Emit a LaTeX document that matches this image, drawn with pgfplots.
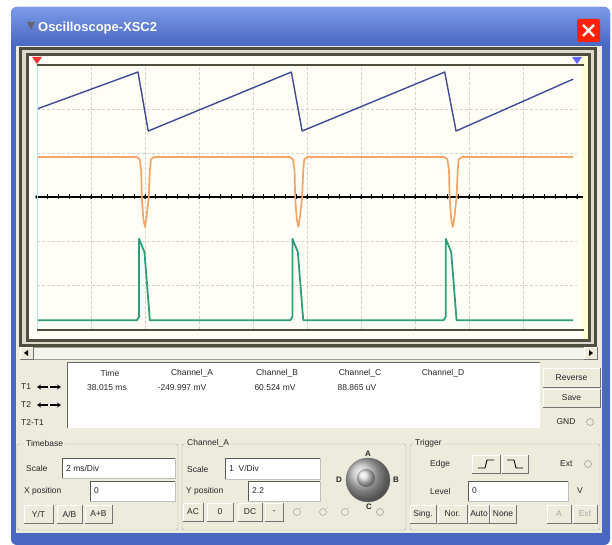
\documentclass[border=0pt]{standalone}
\usepackage{pgfplots}
\pgfplotsset{compat=1.18}
\usepackage{fontspec}
\setmainfont{Liberation Sans}
\usetikzlibrary{arrows.meta}
\definecolor{xpblue}{HTML}{4A67C2}
\definecolor{xpbluel}{HTML}{7C9AE8}
\definecolor{panel}{HTML}{ECEBDC}
\definecolor{scr}{HTML}{FEFEF6}
\definecolor{frm}{HTML}{4E4E3E}
\definecolor{chA}{HTML}{3F4A98}
\definecolor{chB}{HTML}{F2A567}
\definecolor{chC}{HTML}{2E9E7A}
\definecolor{gridc}{HTML}{D2D2CA}
\newcommand{\tbox}[5]{%
  \fill[white] (#1,#2) rectangle (#3,#4);
  \draw[black!65] (#1,#4) -- (#1,#2) -- (#3,#2);
  \draw[black!25] (#1,#4) -- (#3,#4) -- (#3,#2);
  \node[anchor=west] at ({#1+4},{(#2+#4)/2}) {#5};}
\newcommand{\btn}[5]{%
  \fill[panel] (#1,#2) rectangle (#3,#4);
  \draw[white] (#1,#4) -- (#1,#2) -- (#3,#2);
  \draw[black!55] (#1,#4) -- (#3,#4) -- (#3,#2);
  \node at ({(#1+#3)/2},{(#2+#4)/2}) {#5};}
\begin{document}
\begin{tikzpicture}[every node/.style={font=\fontsize{8.5}{10}\selectfont, inner sep=0pt, text=black!85}]
\begin{scope}[x=1bp, y=-1bp, yshift=538bp]
% background and window
\fill[white] (0,0) rectangle (612,538);
\fill[xpblue, rounded corners=6] (11,7) rectangle (610,545);
\shade[top color=xpbluel, bottom color=xpblue, rounded corners=6] (11,7) rectangle (610,46);
\fill[panel] (16,46) rectangle (602,533);
\fill[black!60] (27,22) -- (35,22) -- (31,30) -- cycle;
\node[anchor=west, text=white, font=\fontsize{13}{14}\selectfont\bfseries] at (38,28) {Oscilloscope-XSC2};
\fill[red!75!orange, rounded corners=2] (577,19) rectangle (600,42);
\draw[white, line width=2.2pt] (583,25) -- (594,36) (594,25) -- (583,36);
% screen frame
\fill[frm] (19,47) rectangle (597,347);
\fill[panel!85!gray] (22,50) rectangle (594,344);
\fill[frm] (26,53) rectangle (591,342);
\fill[scr] (29,56) rectangle (588,339);
\fill[yellow!18] (582,56) rectangle (588,339);
\end{scope}
\begin{axis}[at={(37bp,209bp)}, anchor=south west, width=540bp, height=264bp, scale only axis,
  xmin=0, xmax=10, ymin=-3, ymax=3, clip=false,
  axis line style={draw=none}, tick style={draw=none},
  xtick={1,...,9}, ytick={-2,-1,1,2}, xticklabels={}, yticklabels={},
  grid=major, major grid style={gridc, densely dashed, line width=0.7pt}]
\addplot[black, line width=1.1pt] coordinates {(0,0) (10.11,0)};
\addplot[chB, line width=1.7pt, line join=round] coordinates {
 (0,0.91) (1.84,0.91) (1.90,0.86) (1.93,0.6) (1.94,0) (1.97,-0.5) (2.00,-0.68) (2.03,-0.45) (2.07,0) (2.09,0.6) (2.11,0.86) (2.17,0.91)
 (4.68,0.91) (4.74,0.86) (4.77,0.6) (4.78,0) (4.81,-0.5) (4.84,-0.68) (4.87,-0.45) (4.91,0) (4.93,0.6) (4.95,0.86) (5.01,0.91)
 (7.54,0.91) (7.60,0.86) (7.63,0.6) (7.64,0) (7.67,-0.5) (7.70,-0.68) (7.73,-0.45) (7.77,0) (7.79,0.6) (7.81,0.86) (7.87,0.91)
 (9.93,0.91)};
\addplot[chC, line width=1.8pt, line join=round] coordinates {
 (0,-2.8) (1.85,-2.8) (1.89,-2.72) (1.89,-0.95) (1.99,-1.25) (2.09,-2.8)
 (4.69,-2.8) (4.73,-2.72) (4.73,-0.95) (4.83,-1.25) (4.93,-2.8)
 (7.53,-2.8) (7.57,-2.72) (7.57,-0.95) (7.67,-1.25) (7.77,-2.8)
 (9.93,-2.8)};
\addplot[chA, line width=1.4pt, line join=round] coordinates {
 (0,2.0) (1.87,2.84) (2.06,1.50) (4.71,2.84) (4.91,1.50) (7.55,2.84) (7.76,1.50) (9.93,2.68)};
\end{axis}
\begin{scope}[x=1bp, y=-1bp, yshift=538bp]
% graticule top/bottom, center ticks, cursors
\draw[frm, line width=1.6pt] (37,65) -- (584,65);
\draw[frm, line width=1.6pt] (37,330) -- (584,330);
\foreach \i in {0,...,50} { \draw[black, line width=0.7pt] ({37+\i*10.8},194.5) -- ({37+\i*10.8},199.5); }
\foreach \i in {0,...,10} { \fill[black] ({37+\i*54},197) circle (1.8); }
\draw[cyan!30, line width=0.8pt] (37,66) -- (37,329);
\fill[red!80] (32,57) -- (42,57) -- (37,64) -- cycle;
\fill[blue!60] (572,57) -- (582,57) -- (577,64) -- cycle;
% scrollbar
\fill[panel!50!white] (20,347) rectangle (597,359);
\draw[black!40] (20,347) rectangle (597,359);
\btn{20}{347}{33}{359}{}
\btn{584}{347}{597}{359}{}
\fill[black] (24,353) -- (28,350) -- (28,356) -- cycle;
\fill[black] (593,353) -- (589,350) -- (589,356) -- cycle;
% readout
\fill[white] (67,362) rectangle (540,428);
\draw[black!60] (67,428) -- (67,362) -- (540,362);
\node[anchor=west] at (21,387) {T1};
\node[anchor=west] at (21,405) {T2};
\node[anchor=west] at (21,423) {T2-T1};
\foreach \yy in {387,405} {
  \draw[-{Stealth[length=4pt,width=5pt]}, line width=1.3pt] (48,\yy) -- (37,\yy);
  \draw[-{Stealth[length=4pt,width=5pt]}, line width=1.3pt] (50,\yy) -- (61,\yy);
}
\node at (110,373) {Time};
\node at (192,373) {Channel\_A};
\node at (277,373) {Channel\_B};
\node at (360,373) {Channel\_C};
\node at (443,373) {Channel\_D};
\node at (107,388) {38.015 ms};
\node at (182,388) {-249.997 mV};
\node at (275,388) {60.524 mV};
\node at (357,388) {88.865 uV};
\btn{543}{368}{600}{387}{Reverse}
\btn{543}{389}{600}{407}{Save}
\node at (566,422) {GND};
\draw[black!50] (590,422) circle (3.5);
% group boxes
\draw[black!35, rounded corners=2] (17,444) rectangle (178,530);
\draw[black!35, rounded corners=2] (182,444) rectangle (406,530);
\draw[black!35, rounded corners=2] (410,444) rectangle (600,530);
\node[anchor=west, fill=panel, inner xsep=2pt] at (24,443) {Timebase};
\node[anchor=west, fill=panel, inner xsep=2pt] at (185,443) {Channel\_A};
\node[anchor=west, fill=panel, inner xsep=2pt] at (413,443) {Trigger};
% Timebase
\node[anchor=west] at (26,468) {Scale};
\tbox{62}{458}{175}{478}{2 ms/Div}
\node[anchor=west] at (24,491) {X position};
\tbox{90}{481}{175}{501}{0}
\btn{24}{505}{53}{523}{Y/T}
\btn{57}{505}{82}{523}{A/B}
\btn{85}{505}{112}{523}{A+B}
% Channel A
\node[anchor=west] at (187,469) {Scale};
\tbox{225}{458}{320}{479}{1 \ V/Div}
\node[anchor=west] at (186,491) {Y position};
\tbox{248}{481}{320}{501}{2.2}
\btn{183}{503}{203}{521}{AC}
\btn{207}{503}{233}{521}{0}
\btn{238}{503}{262}{521}{DC}
\btn{265}{503}{283}{521}{-}
\foreach \xx in {297,323,345} { \draw[black!40] (\xx,512) circle (3.5); \draw[black!25] (\xx+2,509) -- (\xx+5,507); }
\draw[black!50] (380,512) circle (3.5);
\shade[ball color=gray!55] (368,480) circle (22);
\draw[black!55] (368,480) circle (22);
\shade[ball color=gray!25] (366,478) circle (9);
\node[font=\fontsize{8}{9}\selectfont\bfseries] at (368,454) {A};
\node[font=\fontsize{8}{9}\selectfont\bfseries] at (396,480) {B};
\node[font=\fontsize{8}{9}\selectfont\bfseries] at (369,507) {C};
\node[font=\fontsize{8}{9}\selectfont\bfseries] at (339,480) {D};
% Trigger
\node[anchor=west] at (430,464) {Edge};
\btn{472}{455}{500}{473}{}
\btn{502}{455}{528}{473}{}
\draw[black, line width=0.9pt] (478,468) -- (485,468) -- (487,460) -- (494,460);
\draw[black, line width=0.9pt] (507,460) -- (514,460) -- (516,468) -- (523,468);
\node[anchor=west] at (560,464) {Ext};
\draw[black!50] (588,464) circle (3.5);
\node[anchor=west] at (430,491) {Level};
\tbox{468}{481}{568}{501}{0}
\node at (580,491) {V};
\btn{410}{505}{436}{523}{Sing.}
\btn{438}{505}{467}{523}{Nor.}
\btn{469}{505}{489}{523}{Auto}
\btn{490}{505}{516}{523}{None}
\btn{547}{505}{571}{523}{\textcolor{black!35}{A}}
\btn{573}{505}{597}{523}{\textcolor{black!35}{Ext}}
\end{scope}
\end{tikzpicture}
\end{document}
